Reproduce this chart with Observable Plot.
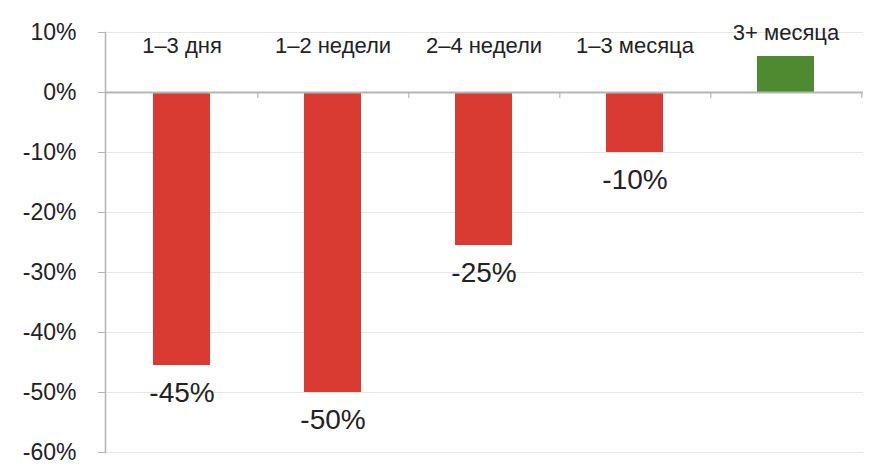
<!DOCTYPE html>
<html><head><meta charset="utf-8">
<script src="https://cdn.jsdelivr.net/npm/d3@7"></script>
<script src="https://cdn.jsdelivr.net/npm/@observablehq/plot@0.6"></script>
<style>
html,body{margin:0;padding:0;background:#fff;}
</style>
</head><body>
<div id="chart"></div>
<script>
const categories = ["1–3 дня", "1–2 недели", "2–4 недели", "1–3 месяца", "3+ месяца"];
const values = [-45.5, -50, -25.5, -10, 6];
const valueLabels = ["-45%", "-50%", "-25%", "-10%", ""];
const yTicks = [10, 0, -10, -20, -30, -40, -50, -60];

const data = categories.map((c, i) => ({cat: c, value: values[i], label: valueLabels[i]}));

const W = 882, H = 476, ML = 105, MR = 19, MT = 32, MB = 24;
const step = (W - ML - MR) / categories.length;
const font = "'Liberation Sans', Arial, Helvetica, sans-serif";

const chart = Plot.plot({
  width: W, height: H,
  marginLeft: ML, marginRight: MR, marginTop: MT, marginBottom: MB,
  style: {fontFamily: font, color: "#222", background: "#fff"},
  x: {domain: categories, paddingInner: 0.62, paddingOuter: 0.31, axis: null},
  y: {domain: [-60, 10], axis: null},
  marks: [
    Plot.ruleY(yTicks.filter(d => d !== 0), {stroke: "#e6e6e6", strokeWidth: 1}),
    Plot.axisY({ticks: yTicks, tickFormat: d => `${d}%`, tickSize: 7, tickPadding: 22, fontSize: 23, stroke: "#b5b5b5", fill: "#222", label: null}),
    Plot.frame({anchor: "left", stroke: "#b5b5b5", strokeWidth: 1.5}),
    Plot.barY(data, {x: "cat", y: "value", fill: d => d.value >= 0 ? "#4e8a2f" : "#d93b32"}),
    Plot.ruleY([0], {stroke: "#b5b5b5", strokeWidth: 2}),
    Plot.ruleX(categories, {x: d => d, y1: 0, y2: -1, dx: step / 2, stroke: "#b5b5b5", strokeWidth: 1.2}),
    Plot.text(data, {x: "cat", y: d => d.value > 0 ? d.value + 4 : 7.8, text: "cat", fontSize: 22, fill: "#222"}),
    Plot.text(data.filter(d => d.value < 0), {x: "cat", y: "value", text: "label", dy: 28, fontSize: 28, fill: "#222"})
  ]
});
document.getElementById("chart").appendChild(chart);
</script>
</body></html>
